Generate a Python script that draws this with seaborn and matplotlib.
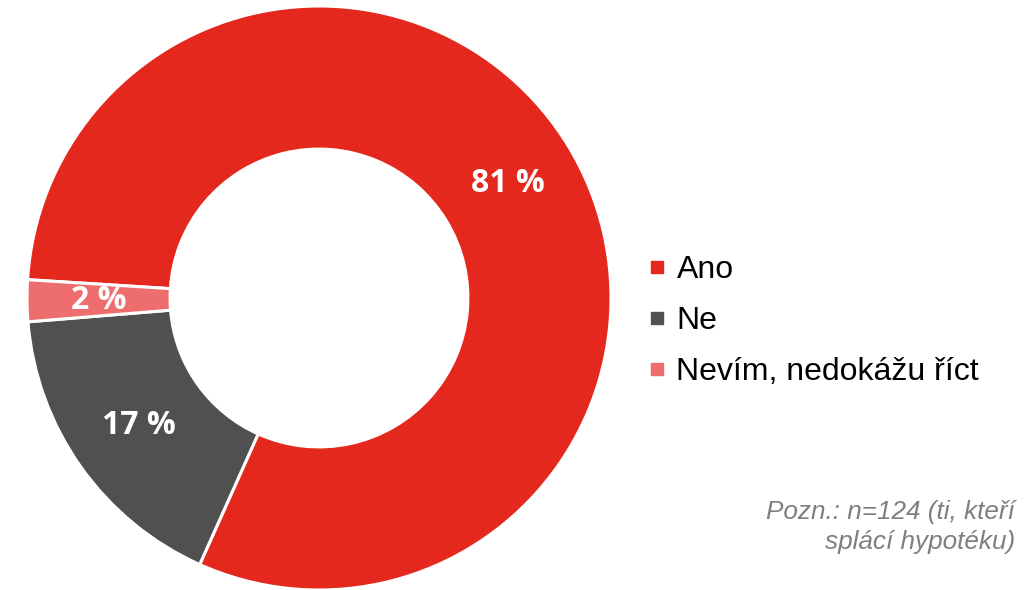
import numpy as np
import seaborn as sns
import matplotlib.pyplot as plt
from matplotlib.lines import Line2D

categories = ["Ano", "Ne", "Nevím, nedokážu říct"]
shares = [80.7, 17.0, 2.3]
pct_labels = ["81 %", "17 %", "2 %"]
note = "Pozn.: n=124 (ti, kteří\nsplácí hypotéku)"

sns.set_style("white")
colors = sns.color_palette(["#E5281E", "#505050", "#EE6D6D"])

fig = plt.figure(figsize=(10.33, 5.9), dpi=100)
ax = fig.add_axes([27 / 1033, 0.0, 584 / 1033, 584 / 590])

wedges, _ = ax.pie(
    shares, colors=colors, startangle=176.4, counterclock=False,
    radius=1.0, wedgeprops=dict(width=0.49, edgecolor="white", linewidth=2.2),
)
ax.set_xlim(-1, 1)
ax.set_ylim(-1, 1)
ax.set_aspect("equal")
ax.axis("off")

# percentage labels at the ring middle
r_mid = 0.755
for w, lab in zip(wedges, pct_labels):
    ang = np.deg2rad((w.theta1 + w.theta2) / 2)
    ax.text(r_mid * np.cos(ang), r_mid * np.sin(ang), lab, ha="center", va="center",
            color="white", fontsize=23, fontweight="bold", family=["Open Sans", "DejaVu Sans"])

handles = [Line2D([0], [0], marker="s", linestyle="none", markersize=8.5,
                  markerfacecolor=c, markeredgecolor=c) for c in colors]
fig.legend(handles, categories, loc="center left", bbox_to_anchor=(619 / 1033, 1 - 321 / 590),
           frameon=False, handlelength=0.6, handletextpad=0.3, labelspacing=0.66,
           labelcolor="black",
           prop={"family": ["Liberation Sans", "DejaVu Sans"], "size": 23})

fig.text(1015 / 1033, 1 - 527 / 590, note, ha="right", va="center", color="#7F7F7F",
         fontsize=18.8, style="italic", family=["Liberation Sans", "DejaVu Sans"],
         linespacing=1.3)

fig.savefig("out.png", dpi=100, facecolor="white")
